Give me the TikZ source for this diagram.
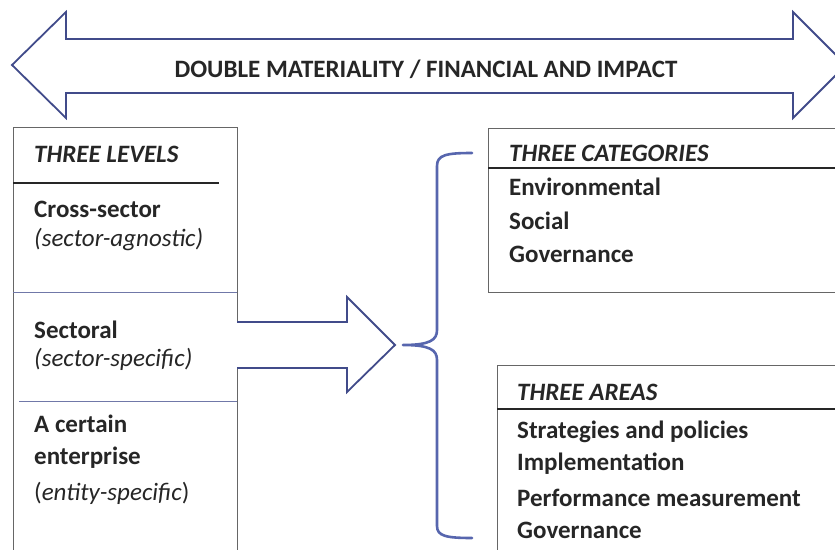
\documentclass[tikz,border=0pt]{standalone}
\usepackage{fontspec}
\setmainfont{Carlito}
\begin{document}
\begin{tikzpicture}[x=1pt,y=-1pt,
  bodytext/.style={anchor=base west, inner sep=0pt, font=\fontsize{25}{30}\selectfont\bfseries, text=black!85},
  noteitem/.style={anchor=base west, inner sep=0pt, font=\fontsize{25}{30}\selectfont\itshape, text=black!85},
  headtext/.style={anchor=base west, inner sep=0pt, font=\fontsize{25}{30}\selectfont\bfseries\itshape, text=black!85},
  arrowline/.style={draw=arrowblue, line width=1.8pt, line join=miter, fill=white},
  boxline/.style={draw=black!60, line width=1pt},
  headrule/.style={draw=black!85, line width=1.4pt},
  thinrule/.style={draw=ruleblue, line width=0.9pt},
  bracestyle/.style={draw=braceblue, line width=2.6pt, line cap=round, line join=round}]
\definecolor{arrowblue}{HTML}{414B8A}
\definecolor{braceblue}{HTML}{5766AE}
\definecolor{ruleblue}{HTML}{7078A8}
\useasboundingbox (0,0) rectangle (835,549);
\clip (0,0) rectangle (835,549);

% double-headed banner arrow
\draw[arrowline] (12,65) -- (66,12) -- (66,39) -- (793,39) -- (793,12) -- (846,65)
  -- (793,118) -- (793,93) -- (66,93) -- (66,118) -- cycle;
\node[anchor=base, inner sep=0pt, font=\fontsize{25}{30}\selectfont\bfseries, text=black!85]
  (banner) at (426,77) {DOUBLE MATERIALITY / FINANCIAL AND IMPACT};

% left box: three levels
\draw[boxline] (13,560) -- (13,127) -- (237,127) -- (237,560);
\draw[headrule] (13,183) -- (219,183);
\draw[thinrule] (13,292) -- (237,292);
\draw[thinrule] (19,401) -- (237,401);
\node[headtext] (levels) at (34,162) {THREE LEVELS};
\node[bodytext] (cross) at (34,217) {Cross-sector};
\node[noteitem] (crossn) at (34,246) {(sector-agnostic)};
\node[bodytext] (sect) at (34,338) {Sectoral};
\node[noteitem] (sectn) at (34,366) {(sector-specific)};
\node[bodytext] (ent1) at (34,432) {A certain};
\node[bodytext] (ent2) at (34,464) {enterprise};
\node[bodytext, font=\fontsize{25}{30}\selectfont\mdseries] (entn) at (34,500) {(\textit{entity-specific})};

% block arrow from levels to the brace
\draw[arrowline] (237,322) -- (347,322) -- (347,297) -- (395,345) -- (347,392)
  -- (347,368) -- (237,368);

% brace
\draw[bracestyle] (472,153) .. controls (446,153) and (437,155) .. (437,166)
  -- (437,330) .. controls (437,340) and (430,345) .. (403,345)
  .. controls (430,345) and (437,350) .. (437,360)
  -- (437,526) .. controls (437,536) and (446,538) .. (472,538);

% right top box: three categories
\draw[boxline] (840,128) -- (488,128) -- (488,292) -- (840,292);
\draw[headrule] (488,168) -- (840,168);
\node[headtext] (cats) at (509,161) {THREE CATEGORIES};
\node[bodytext] (env) at (509,195) {Environmental};
\node[bodytext] (soc) at (509,229) {Social};
\node[bodytext] (gov) at (509,262) {Governance};

% right bottom box: three areas
\draw[boxline] (840,365) -- (497,365) -- (497,560);
\draw[headrule] (497,409) -- (840,409);
\node[headtext] (areas) at (517,400) {THREE AREAS};
\node[bodytext] (strat) at (517,438) {Strategies and policies};
\node[bodytext] (impl) at (517,470) {Implementation};
\node[bodytext] (perf) at (517,506) {Performance measurement};
\node[bodytext] (gov2) at (517,538) {Governance};
\end{tikzpicture}
\end{document}
